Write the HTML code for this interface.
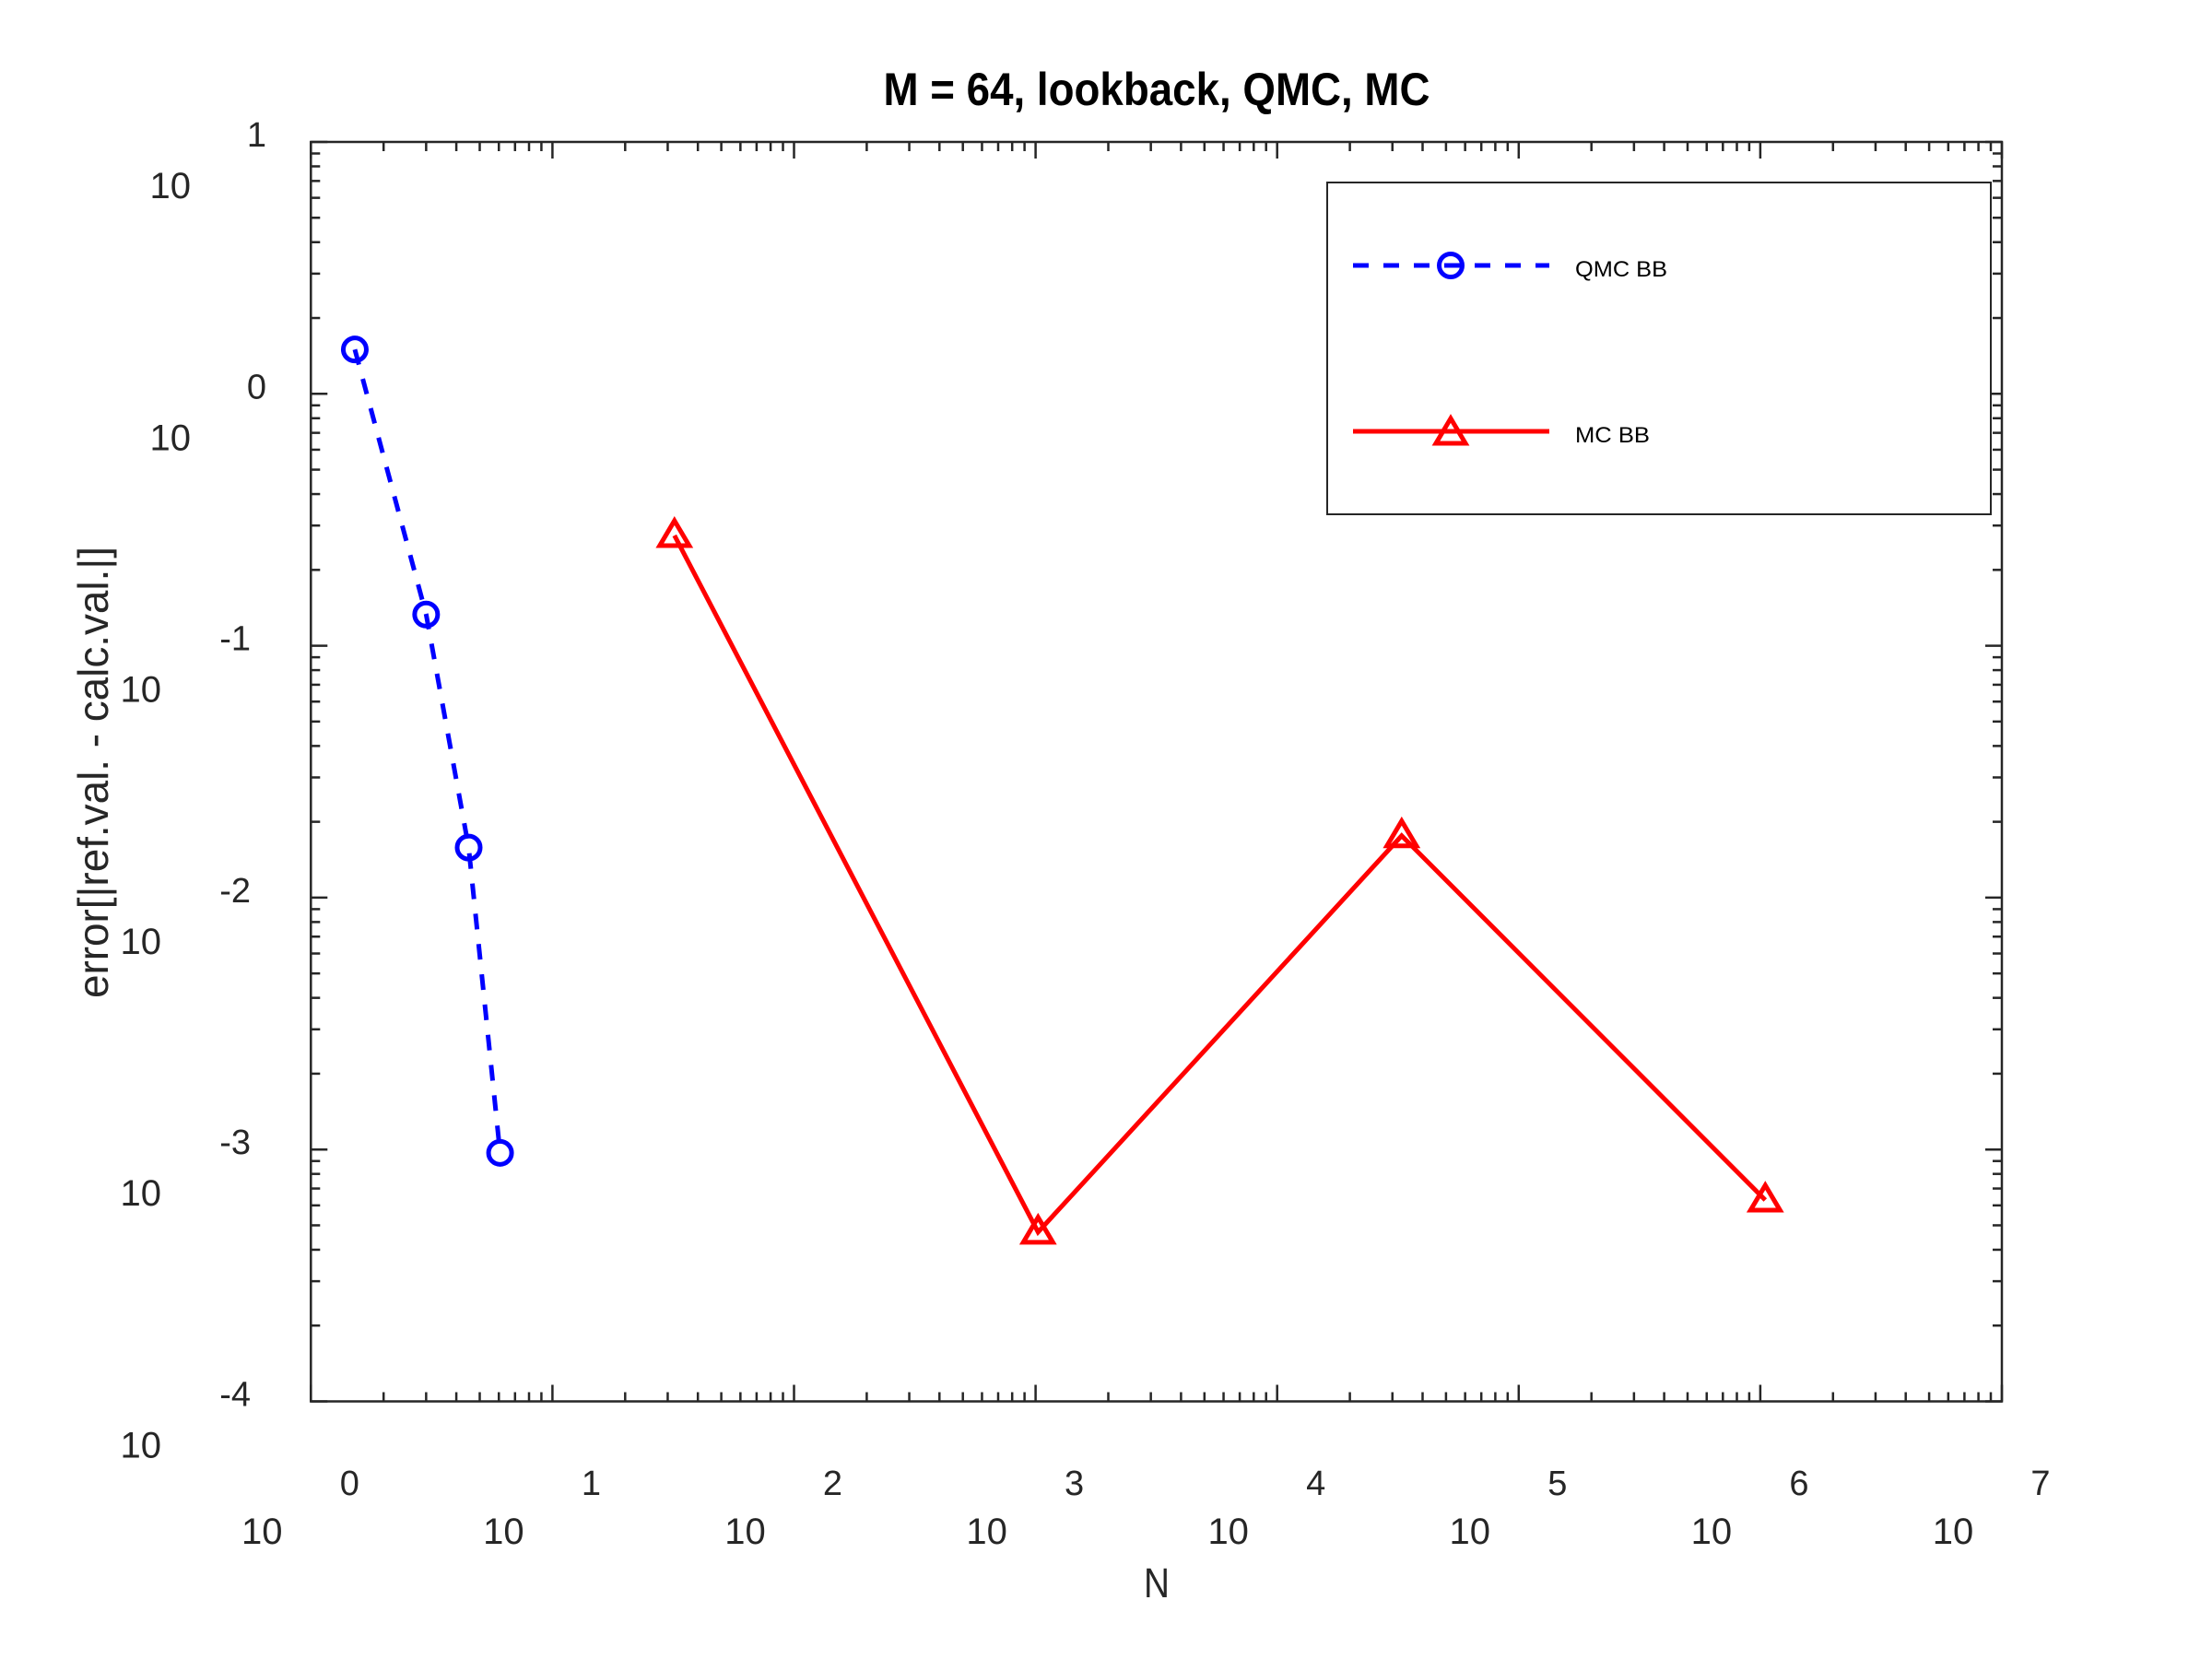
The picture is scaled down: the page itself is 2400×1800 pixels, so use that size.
<!DOCTYPE html>
<html><head><meta charset="utf-8"><style>
html,body{margin:0;padding:0;background:#fff;}
svg{display:block;font-family:"Liberation Sans",Arial,sans-serif;}
</style></head><body>
<svg id="chart" width="2400" height="1800" viewBox="0 0 2400 1800" xmlns="http://www.w3.org/2000/svg">
<rect x="0" y="0" width="2400" height="1800" fill="#fff"/>
<text x="1255" y="114" text-anchor="middle" font-size="50" font-weight="bold" textLength="593" lengthAdjust="spacingAndGlyphs" fill="#000">M = 64, lookback, QMC, MC</text>
<g id="ticks"></g>
<g id="labels"></g>
<rect x="337.3" y="154" width="1834.7" height="1366.5" fill="none" stroke="#262626" stroke-width="2.5"/>
<g id="series"></g>
<text transform="translate(117,838) rotate(-90)" text-anchor="middle" font-size="46" textLength="490" lengthAdjust="spacingAndGlyphs" fill="#262626">error[|ref.val. - calc.val.|]</text>
<text x="1255" y="1733" text-anchor="middle" font-size="45" textLength="28" lengthAdjust="spacingAndGlyphs" fill="#262626">N</text>
<g>
<rect x="1440" y="198" width="720" height="360" fill="#fff" stroke="#262626" stroke-width="2"/>
<g>
<line x1="1468" y1="288" x2="1681" y2="288" stroke="#0000ff" stroke-width="5" stroke-dasharray="17,16"/>
<circle cx="1574" cy="288" r="12.5" fill="none" stroke="#0000ff" stroke-width="5"/>
<text x="1709" y="300" font-size="24" textLength="100" lengthAdjust="spacingAndGlyphs" fill="#000">QMC BB</text>
</g>
<g>
<line x1="1468" y1="468" x2="1681" y2="468" stroke="#ff0000" stroke-width="5"/>
<path d="M1574,454 L1590,481 L1558,481 Z" fill="none" stroke="#ff0000" stroke-width="5"/>
<text x="1709" y="480" font-size="24" textLength="81" lengthAdjust="spacingAndGlyphs" fill="#000">MC BB</text>
</g>
</g>
</svg>
<script>
const qmcN = [1.52, 3.0, 4.5, 6.07];
const qmcErr = [1.5, 0.133, 0.0158, 0.00097];
const mcN = [32, 1024, 32768, 1048576];
const mcErr = [0.274, 0.00047, 0.0176, 0.00063];
const xTickExps = [0, 1, 2, 3, 4, 5, 6, 7];
const yTickExps = [1, 0, -1, -2, -3, -4];

const L = 337.3, R = 2172, T = 154, B = 1520.5;
const XMIN = 0, XMAX = 7, YMIN = -4, YMAX = 1;
function xs(v){ return L + (Math.log10(v) - XMIN) / (XMAX - XMIN) * (R - L); }
function ys(v){ return B - (Math.log10(v) - YMIN) / (YMAX - YMIN) * (B - T); }
const NS = "http://www.w3.org/2000/svg";
function mk(tag, attrs, parent){
  const e = document.createElementNS(NS, tag);
  for (const k in attrs) e.setAttribute(k, attrs[k]);
  parent.appendChild(e);
  return e;
}
const ticks = document.getElementById('ticks');
const labels = document.getElementById('labels');
const series = document.getElementById('series');
const tc = "#262626";

for (let d = XMIN; d <= XMAX; d++) {
  for (let m = 1; m <= 9; m++) {
    const v = m * Math.pow(10, d);
    if (Math.log10(v) > XMAX + 1e-9) break;
    const x = xs(v);
    const len = m === 1 ? 18 : 10;
    const t1 = mk('line', {x1:x, y1:B, x2:x, y2:B-len, stroke:tc, 'stroke-width':2.5}, ticks);
    
    
    const t2 = mk('line', {x1:x, y1:T, x2:x, y2:T+len, stroke:tc, 'stroke-width':2.5}, ticks);
    
    
  }
}
for (let d = YMIN; d <= YMAX; d++) {
  for (let m = 1; m <= 9; m++) {
    const v = m * Math.pow(10, d);
    if (Math.log10(v) > YMAX + 1e-9) break;
    const y = ys(v);
    const len = m === 1 ? 18 : 10;
    const t1 = mk('line', {x1:L, y1:y, x2:L+len, y2:y, stroke:tc, 'stroke-width':2.5}, ticks);
    
    
    const t2 = mk('line', {x1:R, y1:y, x2:R-len, y2:y, stroke:tc, 'stroke-width':2.5}, ticks);
    
    
  }
}
xTickExps.forEach(e => {
  const x = xs(Math.pow(10, e));
  const b = mk('text', {x:x-53, y:1675, 'text-anchor':'middle', 'font-size':40, fill:tc}, labels);
  b.textContent = '10';
  
  
  const p = mk('text', {x:x+42, y:1622, 'text-anchor':'middle', 'font-size':38, fill:tc}, labels);
  p.textContent = String(e);
  
  
});
yTickExps.forEach(e => {
  const y = ys(Math.pow(10, e));
  const neg = e < 0;
  const b = mk('text', {x: neg ? 175 : 207, y:y+61, 'text-anchor':'end', 'font-size':40, fill:tc}, labels);
  b.textContent = '10';
  
  
  const p = mk('text', {x: neg ? 272 : 289, y:y+5, 'text-anchor':'end', 'font-size':38, fill:tc}, labels);
  p.textContent = String(e);
  
  
});
const qpts = qmcN.map((n,i) => xs(n).toFixed(1) + ',' + ys(qmcErr[i]).toFixed(1)).join(' ');
const ql = mk('polyline', {points:qpts, fill:'none', stroke:'#0000ff', 'stroke-width':5, 'stroke-dasharray':'17,16'}, series);


qmcN.forEach((n,i) => {
  const c = mk('circle', {cx:xs(n), cy:ys(qmcErr[i]), r:12.5, fill:'none', stroke:'#0000ff', 'stroke-width':5}, series);
  
  
});
const mpts = mcN.map((n,i) => xs(n).toFixed(1) + ',' + ys(mcErr[i]).toFixed(1)).join(' ');
const ml = mk('polyline', {points:mpts, fill:'none', stroke:'#ff0000', 'stroke-width':5}, series);


mcN.forEach((n,i) => {
  const x = xs(n), y = ys(mcErr[i]);
  const t = mk('path', {d:`M${x},${y-16} L${x+16},${y+11} L${x-16},${y+11} Z`, fill:'none', stroke:'#ff0000', 'stroke-width':5}, series);
  
  
});
</script>
</body></html>
